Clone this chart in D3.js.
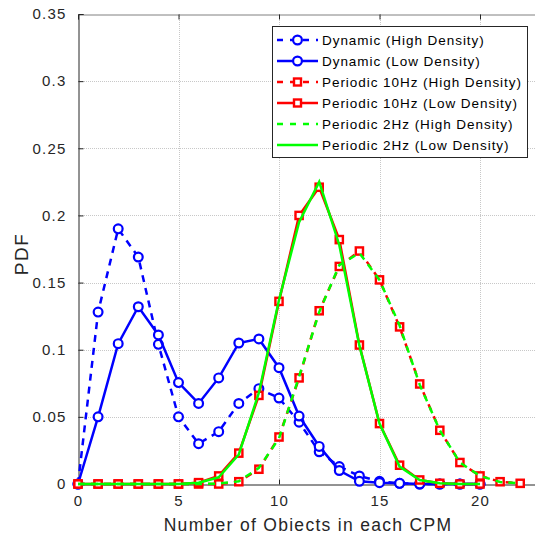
<!DOCTYPE html>
<html>
<head>
<meta charset="utf-8">
<script src="https://cdn.jsdelivr.net/npm/d3@7"></script>
<style>
  html, body { margin: 0; padding: 0; background: #fff; }
  svg { display: block; font-family: "Liberation Sans", Arial, sans-serif; }
</style>
</head>
<body>
<svg id="chart" width="535" height="536"></svg>
<script>
// Object counts per CPM (x axis)
const counts = d3.range(0, 23);

// Probability of each count, one array per scheme
const dynamicHigh = [0, 0.128, 0.190, 0.169, 0.104, 0.050, 0.030, 0.039, 0.060, 0.071, 0.064, 0.046, 0.024, 0.013, 0.006, 0.002, 0.0005, 0, 0, 0, 0];
const dynamicLow  = [0, 0.050, 0.1045, 0.132, 0.111, 0.0755, 0.060, 0.079, 0.105, 0.108, 0.0866, 0.0506, 0.028, 0.010, 0.002, 0.001, 0.0005, 0, 0, 0, 0];
const p10High = [0, 0, 0, 0, 0, 0, 0, 0, 0.0017, 0.011, 0.035, 0.079, 0.129, 0.162, 0.1735, 0.152, 0.117, 0.0745, 0.040, 0.016, 0.006, 0.0017, 0.0005];
const p10Low  = [0, 0, 0, 0, 0, 0, 0.001, 0.006, 0.023, 0.066, 0.136, 0.200, 0.221, 0.182, 0.1035, 0.045, 0.014, 0.003, 0.0005, 0, 0];
const p2High  = [0, 0, 0, 0, 0, 0, 0, 0.0003, 0.002, 0.012, 0.034, 0.080, 0.128, 0.163, 0.172, 0.152, 0.118, 0.074, 0.040, 0.016, 0.006, 0.0015, 0.0005];
const p2Low   = [0, 0, 0, 0, 0, 0, 0.001, 0.005, 0.022, 0.068, 0.137, 0.195, 0.225, 0.178, 0.103, 0.045, 0.013, 0.003, 0.0005, 0, 0];

const xTicks = [0, 5, 10, 15, 20];
const yTicks = [0, 0.05, 0.1, 0.15, 0.2, 0.25, 0.3, 0.35];

const seriesNames = [
  "Dynamic (High Density)",
  "Dynamic (Low Density)",
  "Periodic 10Hz (High Density)",
  "Periodic 10Hz (Low Density)",
  "Periodic 2Hz (High Density)",
  "Periodic 2Hz (Low Density)"
];

const series = [
  { name: seriesNames[0], values: dynamicHigh, color: "#0000ff", dash: "7,6", marker: "circle" },
  { name: seriesNames[1], values: dynamicLow,  color: "#0000ff", dash: null,  marker: "circle" },
  { name: seriesNames[2], values: p10High,     color: "#ff0000", dash: "7,6", marker: "square" },
  { name: seriesNames[3], values: p10Low,      color: "#ff0000", dash: null,  marker: "square" },
  { name: seriesNames[4], values: p2High,      color: "#00ff00", dash: "7,6", marker: null },
  { name: seriesNames[5], values: p2Low,       color: "#00ff00", dash: null,  marker: null }
];

const svg = d3.select("#chart");
const plotLeft = 78, plotTop = 14, plotBottom = 484;

// the axes box runs past the right edge of the figure (xlim 0..25)
const x = d3.scaleLinear().domain([0, 25]).range([plotLeft, plotLeft + 25 * 20.1]);
const y = d3.scaleLinear().domain([0, 0.35]).range([plotBottom, plotTop]);

// grid
const grid = svg.append("g").attr("stroke", "#c8c8c8").attr("stroke-width", 1).attr("stroke-dasharray", "1,1");
grid.selectAll("line.gx").data(xTicks.slice(1)).join("line")
  .attr("x1", d => Math.round(x(d)) + 0.5).attr("x2", d => Math.round(x(d)) + 0.5)
  .attr("y1", plotTop).attr("y2", plotBottom);
grid.selectAll("line.gy").data(yTicks.slice(1, -1)).join("line")
  .attr("x1", plotLeft).attr("x2", 600)
  .attr("y1", d => Math.round(y(d)) + 0.5).attr("y2", d => Math.round(y(d)) + 0.5);

// axes
const axisColor = "#262626";
const xAxis = svg.append("g").attr("transform", `translate(0,${plotBottom + 0.5})`)
  .call(d3.axisBottom(x).tickValues(xTicks).tickSize(-5).tickPadding(11).tickFormat(d3.format("d")));
const xTop = svg.append("g").attr("transform", `translate(0,${plotTop + 0.5})`)
  .call(d3.axisTop(x).tickValues(xTicks).tickSize(-5).tickFormat(""));
const yAxis = svg.append("g").attr("transform", `translate(${plotLeft + 0.5},0)`)
  .call(d3.axisLeft(y).tickValues(yTicks).tickSize(-5).tickPadding(12).tickFormat(d => d === 0 ? "0" : String(+d.toFixed(2))));
[xAxis, xTop, yAxis].forEach(g => {
  g.select(".domain").attr("stroke", axisColor).attr("stroke-width", 1);
  g.selectAll(".tick line").attr("stroke", axisColor);
  g.selectAll("text").attr("fill", "#262626").style("font-size", "15px").style("letter-spacing", "1.2px")
    .style("font-family", "'Liberation Sans', Arial, sans-serif");
});
xTop.select(".domain").attr("stroke", "#808080");

// series lines and markers
const line = d3.line().x((d, i) => x(i)).y(d => y(d));
series.forEach(s => {
  const g = svg.append("g");
  g.append("path").datum(s.values)
    .attr("d", line)
    .attr("fill", "none")
    .attr("stroke", s.color)
    .attr("stroke-width", 2.5)
    .attr("stroke-dasharray", s.dash);
  if (s.marker === "circle") {
    g.selectAll("circle").data(s.values).join("circle")
      .attr("cx", (d, i) => x(i)).attr("cy", d => y(d)).attr("r", 4.4)
      .attr("fill", "#fff").attr("stroke", s.color).attr("stroke-width", 2.2);
  } else if (s.marker === "square") {
    g.selectAll("rect").data(s.values).join("rect")
      .attr("x", (d, i) => x(i) - 3.6).attr("y", d => y(d) - 3.6)
      .attr("width", 7.2).attr("height", 7.2)
      .attr("fill", "#fff").attr("stroke", s.color).attr("stroke-width", 2.4);
  }
});

// axis labels
svg.append("text").attr("x", 308).attr("y", 531).attr("text-anchor", "middle")
  .attr("fill", "#262626").style("font-size", "17.5px").style("letter-spacing", "1.3px")
  .text("Number of Obiects in each CPM");
svg.append("text").attr("transform", "translate(28,254) rotate(-90)").attr("text-anchor", "middle")
  .attr("fill", "#262626").style("font-size", "19px").style("letter-spacing", "1.5px")
  .text("PDF");

// legend
const lg = svg.append("g");
lg.append("rect").attr("x", 272.5).attr("y", 26.5).attr("width", 255).attr("height", 131)
  .attr("fill", "#fff").attr("stroke", "#262626").attr("stroke-width", 1);
series.forEach((s, i) => {
  const cy = 40 + i * 21;
  lg.append("line").attr("x1", 277).attr("x2", 318).attr("y1", cy).attr("y2", cy)
    .attr("stroke", s.color).attr("stroke-width", 2.5)
    .attr("stroke-dasharray", s.dash ? "6,7" : null);
  if (s.marker === "circle") {
    lg.append("circle").attr("cx", 297.5).attr("cy", cy).attr("r", 4.4)
      .attr("fill", "#fff").attr("stroke", s.color).attr("stroke-width", 2.2);
  } else if (s.marker === "square") {
    lg.append("rect").attr("x", 294).attr("y", cy - 3.5).attr("width", 7).attr("height", 7)
      .attr("fill", "#fff").attr("stroke", s.color).attr("stroke-width", 2.4);
  }
  lg.append("text").attr("x", 322).attr("y", cy + 5).attr("fill", "#000")
    .style("font-size", "13.5px").style("letter-spacing", "0.95px").text(s.name);
});
</script>
</body>
</html>
